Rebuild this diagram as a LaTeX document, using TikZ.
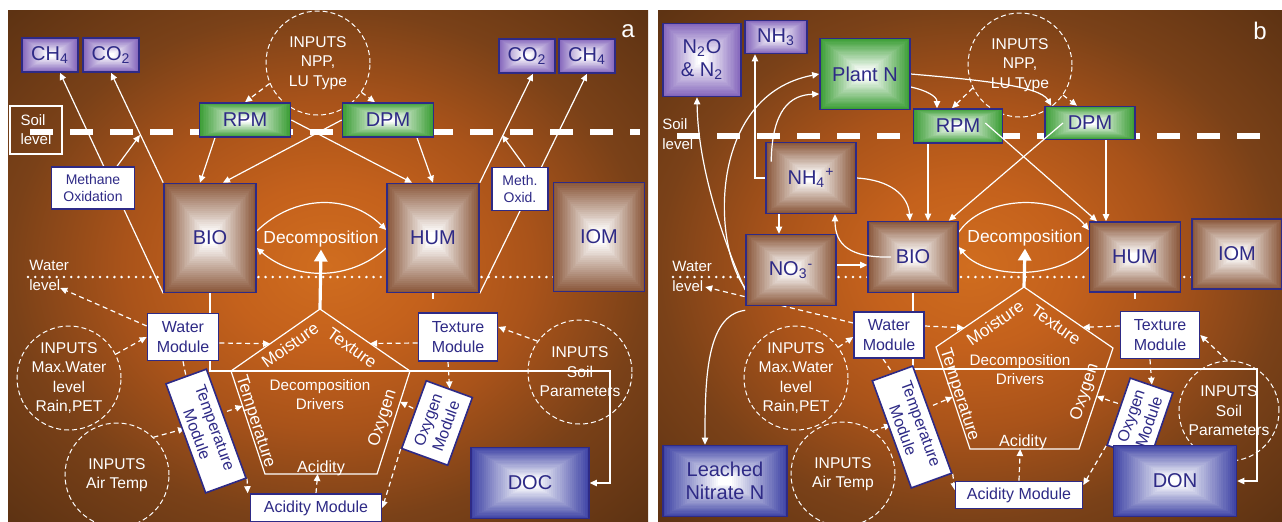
\documentclass[tikz,border=0pt]{standalone}
\usepackage{fontspec}
\setmainfont{Liberation Sans}
\usetikzlibrary{arrows.meta, positioning, calc}
\pgfdeclarelayer{panel}
\pgfdeclarelayer{background}
\pgfdeclarelayer{foreground}
\pgfsetlayers{panel,background,main,foreground}

\definecolor{navy}{HTML}{2E2A86}
\definecolor{gasc}{HTML}{8466BC}
\definecolor{plantc}{HTML}{3C9E36}
\definecolor{poolc}{HTML}{8A573A}
\definecolor{solutec}{HTML}{4045A6}
\definecolor{soilA}{HTML}{D06D1F}
\definecolor{soilB}{HTML}{C4611C}
\definecolor{soilC}{HTML}{A9531A}
\definecolor{soilD}{HTML}{7A4118}
\definecolor{soilE}{HTML}{5E3313}

\pgfdeclareradialshading{soilshade}{\pgfpoint{0bp}{0bp}}{color(0bp)=(soilA); color(8bp)=(soilB); color(16bp)=(soilC); color(25bp)=(soilD); color(35bp)=(soilE); color(50bp)=(soilE)}

\tikzset{
    box/.style={draw=navy, line width=0.8pt, text=navy, align=center, inner sep=1pt,
        font=\fontsize{10}{11.5}\selectfont},
    rectshade/.style={fill=#1, path picture={
        \foreach \k in {0,4,...,100}
          \fill[white!\k!#1] ($(path picture bounding box.center)!{1-\k/112}!(path picture bounding box.south west)$)
            rectangle ($(path picture bounding box.center)!{1-\k/112}!(path picture bounding box.north east)$);
    }},
    gas/.style={box, rectshade=gasc},
    plant/.style={box, rectshade=plantc},
    pool/.style={box, rectshade=poolc},
    solute/.style={box, rectshade=solutec},
    module/.style={box, fill=white, font=\fontsize{8}{9.6}\selectfont},
    inputs/.style={circle, draw=white, dash pattern=on 2.5pt off 1.5pt, line width=0.5pt,
        text=white, align=center, inner sep=0pt, minimum size=52pt,
        font=\fontsize{7.8}{9.8}\selectfont},
    level/.style={text=white, align=left, inner sep=0pt, font=\fontsize{7.5}{10}\selectfont},
    driver/.style={text=white, inner sep=0pt, font=\fontsize{8.5}{10}\selectfont},
    flow/.style={draw=white, line width=0.6pt, -{Triangle[length=3.5pt,width=3.2pt]}},
    ctrl/.style={draw=white, line width=0.6pt, dash pattern=on 2.5pt off 1.8pt,
        -{Triangle[length=3.5pt,width=3.2pt]}},
    bigarrow/.style={draw=white, line width=1.6pt, -{Triangle[length=6pt,width=6.5pt]}},
    soilline/.style={draw=white, line width=2.6pt, dash pattern=on 11.5pt off 8.5pt},
    waterline/.style={draw=white, line width=1.4pt, line cap=round, dash pattern=on 0pt off 3.6pt},
    pent/.style={draw=white, line width=0.6pt},
}

\begin{document}
\begin{tikzpicture}[x=0.5pt, y=-0.5pt]
    \useasboundingbox (0,0) rectangle (1282,521);

    % panels
    \begin{pgfonlayer}{panel}
      \fill[white] (0,0) rectangle (1282,521);
      \shade[shading=soilshade] (8,10) rectangle (648,521);
      \shade[shading=soilshade] (658,10) rectangle (1282,521);
      \draw[soilline] (30,132) -- (640,132);
      \draw[waterline] (28,277) -- (640,277);
      \draw[soilline] (677,136) -- (1276,136);
      \draw[waterline] (673,277) -- (1278,277);
    \end{pgfonlayer}

    % ---------- a ----------
    \node[text=white, font=\fontsize{12}{12}\selectfont] (aLbl) at (628,31) {a};
    \node[gas, minimum width=28pt, minimum height=17pt] (aCHl) at (50,55) {CH\textsubscript{4}};
    \node[gas, minimum width=28pt, minimum height=17pt] (aCOl) at (111,55) {CO\textsubscript{2}};
    \node[gas, minimum width=28pt, minimum height=17pt] (aCOr) at (527,56) {CO\textsubscript{2}};
    \node[gas, minimum width=28pt, minimum height=17pt] (aCHr) at (587,56) {CH\textsubscript{4}};
    \node[draw=white, line width=0.6pt, text=white, align=left, inner sep=1pt,
          minimum width=26pt, minimum height=24pt, font=\fontsize{7.5}{9.5}\selectfont] (aSoil) at (36,130) {Soil\\level};
    \node[inputs] (aNPP) at (318,63) {INPUTS\\NPP,\\LU Type};
    \node[plant, minimum width=45.5pt, minimum height=17pt] (aRPM) at (245,120) {RPM};
    \node[plant, minimum width=45.5pt, minimum height=17pt] (aDPM) at (388,120) {DPM};
    \node[pool, minimum width=46pt, minimum height=54.5pt] (aBIO) at (210,238) {BIO};
    \node[pool, minimum width=46pt, minimum height=54.5pt] (aHUM) at (433,238) {HUM};
    \node[pool, minimum width=45.5pt, minimum height=54.5pt] (aIOM) at (599,237) {IOM};
    \node[module, minimum width=41.5pt, minimum height=21pt, font=\fontsize{7}{8.6}\selectfont] (aMO) at (93,188) {Methane\\Oxidation};
    \node[module, minimum width=28pt, minimum height=21.5pt, font=\fontsize{7}{8.6}\selectfont] (aMOr) at (520,189) {Meth.\\Oxid.};
    \coordinate (aMOe) at (140,135);
    \coordinate (aMOre) at (502,135);
    \node[text=white, inner sep=1pt, font=\fontsize{8.7}{10}\selectfont] (aDec) at (321,239) {Decomposition};
    \node[level, anchor=west] (aWL) at (29,275) {Water\\level};

    \node[inputs] (aMW) at (69,378) {INPUTS\\Max.Water\\level\\Rain,PET};
    \node[inputs] (aAT) at (117,475) {INPUTS\\Air Temp};
    \node[inputs] (aSP) at (580,372) {INPUTS\\Soil\\Parameters};
    \node[module, minimum width=35.5pt, minimum height=23.5pt] (aWM) at (183,337) {Water\\Module};
    \node[module, minimum width=39.5pt, minimum height=24pt] (aTM) at (458,337) {Texture\\Module};
    \node[module, rotate=-70, minimum width=58pt, minimum height=21.5pt] (aTempM) at (206,431) {Temperature\\Module};
    \node[module, rotate=70, minimum width=36pt, minimum height=24.5pt] (aOxM) at (437,423) {Oxygen\\Module};
    \node[module, minimum width=65.5pt, minimum height=14pt] (aAcM) at (316,508) {Acidity Module};
    \node[solute, minimum width=59pt, minimum height=35.5pt] (aDOC) at (530,483) {DOC};
    \coordinate (aTurn) at (610,371);

    % drivers pentagon
    \coordinate (aP1) at (320,309);
    \coordinate (aP2) at (410,371);
    \coordinate (aP3) at (377,474);
    \coordinate (aP4) at (265,474);
    \coordinate (aP5) at (231,371);
    \draw[pent] (aP1) -- (aP2) -- (aP3) -- (aP4) -- (aP5) -- cycle;
    \node[driver, rotate=35] (aMoist) at (290,345) {Moisture};
    \node[driver, rotate=-35] (aText) at (352,348) {Texture};
    \node[driver, rotate=-72] (aTemp) at (255,422) {Temperature};
    \node[driver, rotate=72] (aOxy) at (383,418) {Oxygen};
    \node[driver, font=\fontsize{8.1}{10}\selectfont] (aAcid) at (321,468) {Acidity};
    \node[text=white, align=center, inner sep=0pt, font=\fontsize{7.6}{9.5}\selectfont] (aDrv) at (320,395) {Decomposition\\Drivers};

    \begin{pgfonlayer}{background}
      \draw[flow] (aBIO.south west) -- ([xshift=5pt]aCHl.south);
      \draw[flow] (aBIO.north west) -- (aCOl.south);
      \draw[flow] ([xshift=12pt]aMO.north) -- (aMOe);
      \draw[flow] ([xshift=-15pt]aRPM.south) -- ([xshift=-5pt]aBIO.north);
      \draw[flow] (aDPM.west) -- ([xshift=6.5pt]aBIO.north);
      \draw[flow] (aRPM.east) -- ([xshift=-10.5pt]aHUM.north);
      \draw[flow] ([xshift=14.5pt]aDPM.south) -- (aHUM.north);
      \draw[ctrl] (aNPP.203) -- (aRPM.north);
      \draw[ctrl] (aNPP.326) -- ([xshift=-6.5pt]aDPM.north);
      \draw[flow] (aHUM.north east) -- ([xshift=3pt]aCOr.south);
      \draw[flow] ([xshift=2.5pt]aMOr.north) -- (aMOre);
      \draw[flow] (aHUM.south east) -- (aCHr.south);
      \draw[flow] ([yshift=3.5pt]aBIO.east) .. controls (295,194) and (350,194) .. ([yshift=4pt]aHUM.west);
      \draw[flow] ([yshift=-5pt]aHUM.west) .. controls (350,281) and (295,281) .. ([yshift=-5pt]aBIO.east);
      \draw[bigarrow] (aP1) -- (aDec.south);
      \draw[flow] (aBIO.south) |- (aTurn) |- (aDOC.east);
      \draw[white, line width=1pt] (aHUM.south) -- ++(0,6);
      \draw[ctrl] ([yshift=5.5pt]aWM.west) -- ([shift={(-4.5pt,-6.5pt)}]aWL.east);
      \draw[ctrl] (aMW.27) -- (aWM.west);
      \draw[ctrl] ([yshift=-3pt]aWM.east) -- ($(aP5)!0.44!(aP1)$);
      \draw[ctrl, -] (aWM.south) -- (aTempM.west);
      \draw[ctrl] (aAT.46) -- ([yshift=5pt]aTempM.south);
      \draw[ctrl] ([yshift=6pt]aTempM.north) -- ($(aP5)!0.34!(aP4)$);
      \draw[ctrl] (aTempM.north east) -- ([xshift=-1pt]aAcM.north west);
      \draw[ctrl] (aAcM.north) -- ($(aP4)!0.47!(aP3)$);
      \draw[ctrl] ([yshift=-3pt]aTM.west) -- ($(aP1)!0.556!(aP2)$);
      \draw[ctrl] (aSP.144) -- ([yshift=5pt]aTM.east);
      \draw[ctrl] ([xshift=-5pt]aTM.south) -- (aOxM.east);
      \draw[ctrl] ([yshift=3pt]aOxM.north) -- ($(aP3)!0.7!(aP2)$);
      \draw[ctrl] (aOxM.north west) -- (aAcM.east);
    \end{pgfonlayer}

    % ---------- b ----------
    \node[text=white, font=\fontsize{12}{12}\selectfont] (bLbl) at (1260,31) {b};
    \node[gas, minimum width=39pt, minimum height=36.5pt] (bN2O) at (702,60) {N\textsubscript{2}O\\\& N\textsubscript{2}};
    \node[gas, minimum width=31pt, minimum height=16.5pt] (bNH3) at (776,37) {NH\textsubscript{3}};
    \node[plant, minimum width=45pt, minimum height=35.5pt] (bPlant) at (865,74) {Plant N};
    \node[inputs] (bNPP) at (1020,65) {INPUTS\\NPP,\\LU Type};
    \node[plant, minimum width=44.5pt, minimum height=17pt] (bRPM) at (958,126) {RPM};
    \node[plant, minimum width=45pt, minimum height=16.5pt] (bDPM) at (1090,123) {DPM};
    \node[level, anchor=west] (bSoil) at (662,134) {Soil\\level};
    \node[pool, minimum width=45pt, minimum height=35.5pt] (bNH4) at (811,178) {NH\textsubscript{4}\textsuperscript{+}};
    \node[pool, minimum width=45pt, minimum height=35.5pt] (bNO3) at (791,270) {NO\textsubscript{3}\textsuperscript{-}};
    \node[pool, minimum width=45pt, minimum height=35.5pt] (bBIO) at (913,257) {BIO};
    \node[pool, minimum width=45.5pt, minimum height=35pt] (bHUM) at (1135,257) {HUM};
    \node[pool, minimum width=45pt, minimum height=35pt] (bIOM) at (1237,254) {IOM};
    \node[text=white, inner sep=1pt, font=\fontsize{8.7}{10}\selectfont] (bDec) at (1025,238) {Decomposition};
    \node[level, anchor=west] (bWL) at (672,276) {Water\\level};

    \node[inputs] (bMW) at (796,378) {INPUTS\\Max.Water\\level\\Rain,PET};
    \node[inputs] (bAT) at (843,474) {INPUTS\\Air Temp};
    \node[inputs, minimum size=50pt] (bSP) at (1229,411) {INPUTS\\Soil\\Parameters};
    \node[module, minimum width=35pt, minimum height=23pt] (bWM) at (889,335) {Water\\Module};
    \node[module, minimum width=39.5pt, minimum height=23.5pt] (bTM) at (1160,335) {Texture\\Module};
    \node[module, rotate=-70, minimum width=57pt, minimum height=21.5pt] (bTempM) at (912,427) {Temperature\\Module};
    \node[module, rotate=71, minimum width=35.5pt, minimum height=22.5pt] (bOxM) at (1140,419) {Oxygen\\Module};
    \node[module, minimum width=63.5pt, minimum height=13.5pt] (bAcM) at (1019,495) {Acidity Module};
    \node[solute, minimum width=62pt, minimum height=35.5pt, font=\fontsize{10}{11.5}\selectfont] (bLeach) at (725,481) {Leached\\Nitrate N};
    \node[solute, minimum width=61.5pt, minimum height=35.5pt] (bDON) at (1175,481) {DON};
    \coordinate (bTurn) at (1257,369);

    % drivers pentagon
    \coordinate (bP1) at (1024,287);
    \coordinate (bP2) at (1113,348);
    \coordinate (bP3) at (1079,449);
    \coordinate (bP4) at (970,449);
    \coordinate (bP5) at (936,347);
    \draw[pent] (bP1) -- (bP2) -- (bP3) -- (bP4) -- (bP5) -- cycle;
    \node[driver, rotate=35] (bMoist) at (995,323) {Moisture};
    \node[driver, rotate=-35] (bText) at (1056,325) {Texture};
    \node[driver, rotate=-72] (bTemp) at (959,395) {Temperature};
    \node[driver, rotate=72] (bOxy) at (1085,392) {Oxygen};
    \node[driver, font=\fontsize{8.1}{10}\selectfont] (bAcid) at (1023,442) {Acidity};
    \node[text=white, align=center, inner sep=0pt, font=\fontsize{7.6}{9.5}\selectfont] (bDrv) at (1020,370) {Decomposition\\Drivers};

    \begin{pgfonlayer}{background}
      \draw[flow] ([yshift=-10pt]bNO3.west) .. controls (725,245) and (698,170) .. ([xshift=-2.5pt]bN2O.south);
      \draw[flow] ([yshift=-9pt]bNO3.west) .. controls (712,245) and (708,95) .. (bPlant.west);
      \draw[flow] (bNH4.west) -| ([xshift=-10.5pt]bNH3.south);
      \draw[flow] (bNH4.east) .. controls (890,180) and (908,195) .. ([xshift=-1.5pt]bBIO.north);
      \draw[flow] ([xshift=-16pt]bNH4.south) -- ([xshift=-6pt]bNO3.north);
      \draw[flow] ([yshift=2.5pt]bNO3.east) -- ([yshift=2.5pt]bNO3.east -| bBIO.west);
      \draw[flow] ([yshift=-6.5pt]bPlant.east) .. controls (925,90) and (937,96) .. ([xshift=-10.5pt]bRPM.north);
      \draw[flow] (bPlant.east) .. controls (980,80) and (1040,86) .. ([xshift=3.5pt]bDPM.north west);
      \draw[ctrl] (bNPP.206) -- ([xshift=-3pt]bRPM.north);
      \draw[ctrl] (bNPP.325) -- ([xshift=-6.5pt]bDPM.north);
      \draw[flow] ([xshift=-15pt]bRPM.south) -- ([xshift=7.5pt]bBIO.north);
      \draw[flow] ([xshift=8pt]bDPM.south) -- ([xshift=-14.5pt]bHUM.north);
      \draw[flow] ([yshift=12.5pt]bBIO.east) .. controls (985,194) and (1060,194) .. ([yshift=13.5pt]bHUM.west);
      \draw[flow] ([yshift=5pt]bHUM.west) .. controls (1060,280) and (985,280) .. ([yshift=5pt]bBIO.east);
      \draw[bigarrow] (bP1) -- (bDec.south);
      \draw[flow] (bBIO.south) |- (bTurn) |- (bDON.east);
      \draw[white, line width=1pt] (bHUM.south) -- ++(0,6);
      \draw[flow] ([yshift=-2pt]bNO3.south west) .. controls (706,315) and (705,380) .. ([xshift=-10pt]bLeach.north);
      \draw[ctrl] ([yshift=6pt]bWM.west) -- ([shift={(-3.5pt,-5.5pt)}]bWL.east);
      \draw[ctrl] (bMW.36) -- ([yshift=-1pt]bWM.west);
      \draw[ctrl] ([yshift=4.5pt]bWM.east) -- ($(bP5)!0.32!(bP1)$);
      \draw[ctrl, -] ([xshift=-3pt]bWM.south) -- (bTempM.west);
      \draw[ctrl] (bAT.55) -- ([yshift=5pt]bTempM.south);
      \draw[ctrl] ([yshift=7pt]bTempM.north) -- ($(bP5)!0.49!(bP4)$);
      \draw[ctrl] (bTempM.north east) -- ([yshift=2.5pt]bAcM.west);
      \draw[ctrl] (bAcM.north) -- ($(bP4)!0.46!(bP3)$);
      \draw[ctrl] ([yshift=4.5pt]bTM.west) -- ($(bP1)!0.66!(bP2)$);
      \draw[ctrl] (bSP.92) -- (bTM.east);
      \draw[ctrl] ([xshift=-5pt]bTM.south) -- (bOxM.east);
      \draw[ctrl] ([yshift=4pt]bOxM.north) -- ($(bP3)!0.52!(bP2)$);
      \draw[ctrl] (bOxM.north west) -- ([yshift=5pt]bAcM.east);
    \end{pgfonlayer}

    % lines drawn over the pools
    \begin{pgfonlayer}{foreground}
      \draw[flow] ([shift={(3pt,-10pt)}]bNH4.north west) .. controls (772,110) and (790,95) .. ([yshift=-10pt]bPlant.west);
      \draw[flow] ([xshift=12pt]bBIO.west) .. controls (850,258) and (835,245) .. ([xshift=12pt]bNH4.south);
      \draw[flow] ([shift={(-9pt,1.5pt)}]bRPM.east) -- ([xshift=-19pt]bHUM.north);
      \draw[flow] ([xshift=-13.5pt]bDPM.center) -- ([xshift=-5pt]bBIO.north east);
    \end{pgfonlayer}
\end{tikzpicture}
\end{document}
